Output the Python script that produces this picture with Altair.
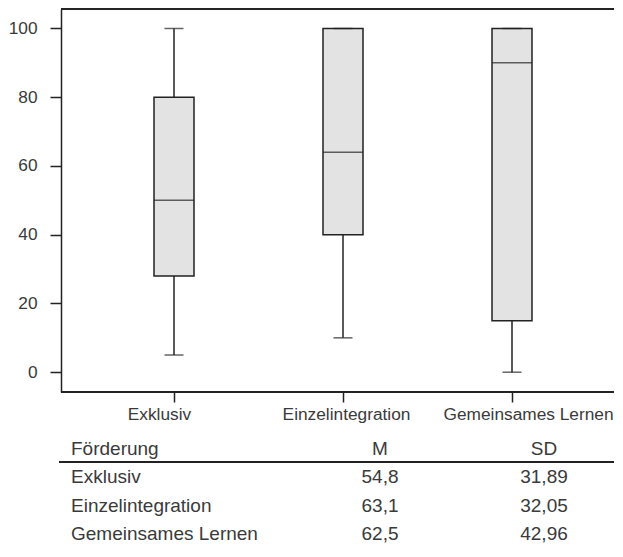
import altair as alt
import pandas as pd

# ---- data ----
groups = ["Exklusiv", "Einzelintegration", "Gemeinsames Lernen"]
whisker_low = [5, 10, 0]
q1 = [28, 40, 15]
median = [50, 64, 90]
q3 = [80, 100, 100]
whisker_high = [100, 100, 100]

y_ticks = [0, 20, 40, 60, 80, 100]

table_cols = ["Förderung", "M", "SD"]
means = ["54,8", "63,1", "62,5"]
sds = ["31,89", "32,05", "42,96"]

# ---- tables built from the arrays ----
box_df = pd.DataFrame({
    "group": groups,
    "low": whisker_low,
    "q1": q1,
    "median": median,
    "q3": q3,
    "high": whisker_high,
})

rows = [table_cols[0]] + groups
tab_df = pd.DataFrame({
    "row": rows,
    "c1": rows,
    "c2": [table_cols[1]] + means,
    "c3": [table_cols[2]] + sds,
})

# ---- styling ----
W = 553
H = 383
FONT = "Liberation Sans"
INK = "#222222"
TEXT = "#3a3a3a"
FILL = "#e3e3e3"
LW = 1.5

x_scale = alt.Scale(type="point", domain=groups, range=[113, 451], padding=0)
y_scale = alt.Scale(domain=[-5.76, 105.67], nice=False, zero=False)

x_axis = alt.Axis(
    title=None, labelAngle=0, tickSize=10, labelPadding=3, domain=False,
    labelFontSize=17.3, labelFont=FONT, labelColor=TEXT,
    tickColor=INK, tickWidth=LW, grid=False,
    labelOffset={
        "condition": [
            {"test": "datum.value === 'Exklusiv'", "value": -15},
            {"test": "datum.value === 'Gemeinsames Lernen'", "value": 16},
        ],
        "value": 3,
    },
)
y_axis = alt.Axis(
    title=None, values=y_ticks, tickSize=11, labelPadding=13,
    labelFontSize=17.3, labelFont=FONT, labelColor=TEXT,
    domainColor=INK, tickColor=INK, domainWidth=LW, tickWidth=LW, grid=False,
)

base = alt.Chart(box_df).encode(
    x=alt.X("group:N", sort=groups, scale=x_scale, axis=x_axis)
)

whisker = base.mark_rule(color=INK, strokeWidth=LW).encode(
    y=alt.Y("low:Q", scale=y_scale, axis=y_axis), y2="high:Q"
)
box = base.mark_bar(size=40, fill=FILL, stroke=INK, strokeWidth=LW).encode(
    y=alt.Y("q1:Q", scale=y_scale, title=None), y2="q3:Q"
)
med = base.mark_tick(size=40, thickness=LW, color=INK, orient="horizontal").encode(
    y=alt.Y("median:Q", scale=y_scale, title=None)
)
cap_low = base.mark_tick(size=19, thickness=LW, color=INK, orient="horizontal").encode(
    y=alt.Y("low:Q", scale=y_scale, title=None)
)
cap_high = base.mark_tick(size=19, thickness=LW, color=INK, orient="horizontal").encode(
    y=alt.Y("high:Q", scale=y_scale, title=None)
)
top_border = alt.Chart(box_df).mark_rule(color=INK, strokeWidth=LW).encode(
    x=alt.value(0), x2=alt.value(W), y=alt.value(0)
)
bottom_border = alt.Chart(box_df).mark_rule(color=INK, strokeWidth=LW).encode(
    x=alt.value(0), x2=alt.value(W), y=alt.value(H)
)

plot = alt.layer(whisker, box, med, cap_low, cap_high, top_border, bottom_border)

# ---- table below the plot (own y scale, drawn below the plot area) ----
ty = alt.Y("row:N", sort=rows,
           scale=alt.Scale(type="point", domain=rows, range=[446.0, 531.1], padding=0),
           axis=None)
tbase = alt.Chart(tab_df)
t1 = tbase.mark_text(align="left", baseline="alphabetic", fontSize=19, font=FONT, color=TEXT).encode(
    x=alt.value(10), y=ty, text="c1:N")
t2 = tbase.mark_text(align="center", baseline="alphabetic", fontSize=19, font=FONT, color=TEXT).encode(
    x=alt.value(319), y=ty, text="c2:N")
t3 = tbase.mark_text(align="center", baseline="alphabetic", fontSize=19, font=FONT, color=TEXT).encode(
    x=alt.value(483), y=ty, text="c3:N")
hrule = tbase.mark_rule(color=INK, strokeWidth=LW).encode(
    x=alt.value(-2), x2=alt.value(W), y=alt.value(453.1))

table = alt.layer(t1, t2, t3, hrule)

chart = alt.layer(plot, table).resolve_scale(y="independent").properties(
    width=W, height=H,
    padding={"left": 0, "top": 0, "right": 0, "bottom": 0},
).configure(background="white").configure_view(stroke=None)

chart.save("out.html", embed_options={"renderer": "svg", "actions": False})
